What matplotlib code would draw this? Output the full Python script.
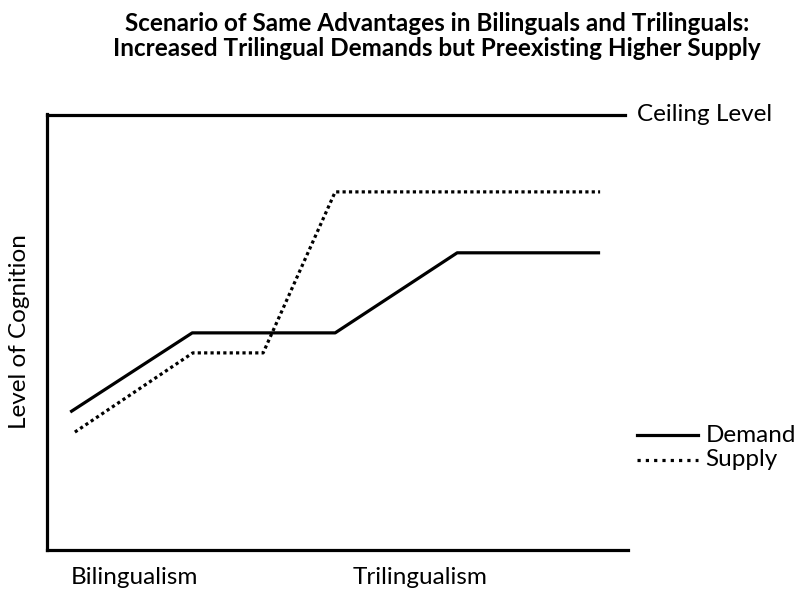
import matplotlib.pyplot as plt

plt.rcParams['font.family'] = ['Lato', 'DejaVu Sans']

# datos (escala arbitraria 0-100)
demand_x = [4.0, 25.0, 49.6, 70.6, 95.2]
demand_y = [31.7, 49.9, 49.9, 68.3, 68.3]
supply_x = [4.8, 25.1, 37.2, 49.6, 95.2]
supply_y = [27.1, 45.3, 45.3, 82.3, 82.3]
ceiling = 100
tick_pos = [15.1, 64.2]
tick_labels = ['Bilingualism', 'Trilingualism']

fs = 17.5

fig = plt.figure(figsize=(8, 5.94), dpi=100)
ax = fig.add_axes([47 / 800, 44 / 594, 581 / 800, 436 / 594])

ax.plot(demand_x, demand_y, color='black', lw=2.3, solid_capstyle='butt')
ax.plot(supply_x, supply_y, color='black', lw=2.3, linestyle=(0, (1, 1)))
ax.axhline(ceiling, color='black', lw=2.3, xmax=0.995, clip_on=False)

ax.set_xlim(0, 100)
ax.set_ylim(0, 100.2)
for side in ['top', 'right']:
    ax.spines[side].set_visible(False)
for side in ['left', 'bottom']:
    ax.spines[side].set_linewidth(2.3)

ax.set_xticks(tick_pos)
ax.set_xticklabels(tick_labels, fontsize=fs)
ax.tick_params(axis='x', length=0, pad=12)
ax.set_yticks([])
ax.set_ylabel('Level of Cognition', fontsize=fs, labelpad=12)

# etiqueta del techo
ax.text(101.5, ceiling, 'Ceiling Level', fontsize=fs, va='center', ha='left', clip_on=False)

# leyenda manual a la derecha
ax.plot([101.5, 112], [26.4, 26.4], color='black', lw=2.3, clip_on=False)
ax.plot([101.5, 112], [20.7, 20.7], color='black', lw=2.3, linestyle=(0, (1, 1.6)), clip_on=False)
ax.text(113.3, 26.4, 'Demand', fontsize=fs, va='center', ha='left', clip_on=False)
ax.text(113.3, 20.7, 'Supply', fontsize=fs, va='center', ha='left', clip_on=False)

fig.text(437 / 800, 1 - 36 / 594,
         'Scenario of Same Advantages in Bilinguals and Trilinguals:\n'
         'Increased Trilingual Demands but Preexisting Higher Supply',
         ha='center', va='center', fontsize=17.5, fontweight='bold', linespacing=1.15)

plt.savefig('out.png', dpi=100)
